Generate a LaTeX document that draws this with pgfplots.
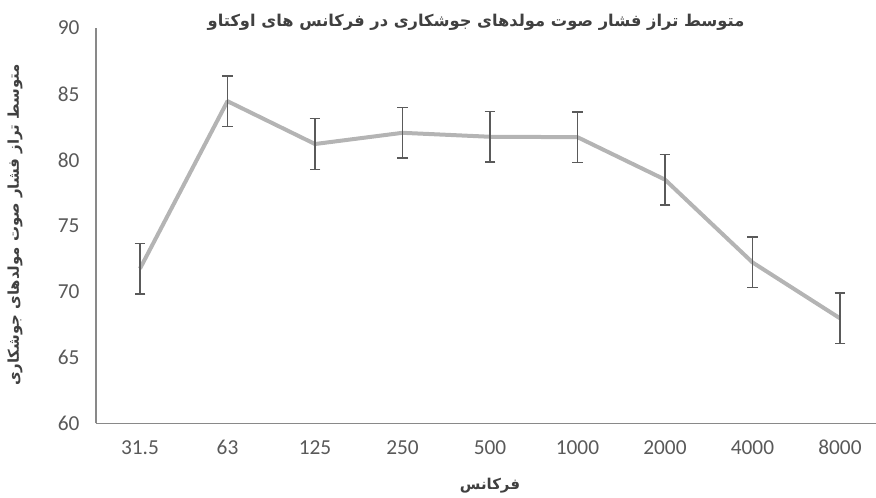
\documentclass[border=0pt]{standalone}
\usepackage{fontspec}
\setmainfont{Carlito}
\newfontfamily\arabicfont[Script=Arabic]{DejaVu Sans}
\TeXXeTstate=1
\usepackage{pgfplots}
\pgfplotsset{compat=1.18}

\definecolor{linegray}{HTML}{B4B4B4}
\definecolor{bargray}{HTML}{5A5A5A}
\definecolor{axisgray}{HTML}{898989}
\definecolor{ticktext}{HTML}{595959}
\definecolor{labeltext}{HTML}{404040}

\begin{document}
\begin{tikzpicture}
\path[use as bounding box] (0,0) rectangle (657pt,373.5pt);
\begin{axis}[
    at={(72.19pt,55.88pt)}, anchor=south west,
    scale only axis,
    width=590.6pt, height=296.6pt,
    xmin=-0.5, xmax=8.5,
    ymin=60, ymax=90,
    xtick={0,...,8},
    xticklabels={31.5,63,125,250,500,1000,2000,4000,8000},
    ytick={60,65,...,90},
    axis x line*=bottom, axis y line*=left,
    axis line style={axisgray, line width=1.2pt, -},
    major tick length=0pt,
    /pgf/number format/assume math mode=true,
    ticklabel style={font=\fontsize{16}{18}\selectfont, text=ticktext},
    xticklabel style={yshift=-9pt},
    yticklabel style={xshift=-9pt},
    clip=false,
]
% mean level per octave band, error bars +- 1.92
\addplot[
    color=linegray,
    line width=3pt,
    no marks,
    line join=round,
    error bars/.cd,
    y dir=both,
    y explicit,
    error bar style={bargray, line width=1pt},
    error mark options={rotate=90, mark size=4pt, bargray, line width=1pt},
] coordinates {
    (0, 71.75) +- (0, 1.92)
    (1, 84.45) +- (0, 1.92)
    (2, 81.20) +- (0, 1.92)
    (3, 82.05) +- (0, 1.92)
    (4, 81.75) +- (0, 1.92)
    (5, 81.72) +- (0, 1.92)
    (6, 78.50) +- (0, 1.92)
    (7, 72.22) +- (0, 1.92)
    (8, 67.98) +- (0, 1.92)
};
\end{axis}

\node[font=\arabicfont\bfseries\fontsize{12.2}{14}\selectfont, text=labeltext]
    at (357pt,357pt) {\beginR متوسط تراز فشار صوت مولدهای جوشکاری در فرکانس های اوکتاو\endR};
\node[font=\arabicfont\bfseries\fontsize{11.2}{13}\selectfont, text=labeltext, rotate=90]
    at (11.25pt,204.75pt) {\beginR متوسط تراز فشار صوت مولدهای جوشکاری\endR};
\node[font=\arabicfont\bfseries\fontsize{11.2}{13}\selectfont, text=labeltext]
    at (367.5pt,9pt) {\beginR فرکانس\endR};
\end{tikzpicture}
\end{document}
